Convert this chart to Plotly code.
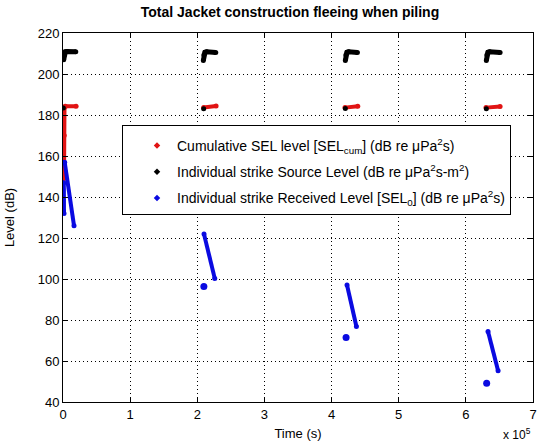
import plotly.graph_objects as go

# ---------------- data ----------------
# Cumulative SEL level (red): four piling events, separated by None
cum_time = [1500, 1800, 2200, 3500, 19500, None,
            209500, 228000, None,
            420000, 439000, None,
            630000, 651000]
cum_db = [149.0, 170.0, 183.8, 184.3, 184.3, None,
          183.7, 184.4, None,
          183.6, 184.3, None,
          183.6, 184.2]

# Individual strike Source Level (black)
sl_time = [1000, 1800, 3500, 6000, 19000, None,
           209000, 209800, 211500, 214000, 227500, None,
           420500, 421300, 423000, 425500, 438500, None,
           630500, 631300, 633000, 635500, 651000]
sl_db = [207.0, 209.5, 210.8, 211.0, 210.8, None,
         206.6, 209.3, 210.6, 210.8, 210.5, None,
         206.6, 209.3, 210.6, 210.8, 210.5, None,
         206.6, 209.3, 210.6, 210.8, 210.5]
# first (soft-start) strike of each event, source level
sl_first_time = [500, 209500, 420500, 630500]
sl_first_db = [183.4, 183.0, 183.2, 183.0]

# Individual strike Received Level (blue)
rl_time = [2500, 16400, None,
           1200, 1500, None,
           210000, 226000, None,
           423000, 437000, None,
           633000, 648000]
rl_db = [157.0, 126.0, None,
         147.0, 132.0, None,
         121.9, 100.3, None,
         97.1, 76.8, None,
         74.4, 55.2]
# first (soft-start) strike of each event, received level
rl_first_time = [209800, 421600, 631000]
rl_first_db = [96.3, 71.5, 49.1]

x_tickvals = [0, 100000, 200000, 300000, 400000, 500000, 600000, 700000]
x_ticktext = ["0", "1", "2", "3", "4", "5", "6", "7"]
y_tickvals = [40, 60, 80, 100, 120, 140, 160, 180, 200, 220]

names = [
    "Cumulative SEL level [SEL<sub>cum</sub>] (dB re \u03bcPa<sup>2</sup>s)",
    "Individual strike Source Level (dB re \u03bcPa<sup>2</sup>s-m<sup>2</sup>)",
    "Individual strike Received Level [SEL<sub>0</sub>] (dB re \u03bcPa<sup>2</sup>s)",
]

RED = "rgb(225,20,20)"
BLACK = "rgb(0,0,0)"
BLUE = "rgb(10,10,225)"
FONT = "Liberation Sans, Arial, sans-serif"

fig = go.Figure()

# data traces (drawn in MATLAB plot order: red, black, blue)
fig.add_trace(go.Scatter(x=cum_time, y=cum_db, mode="lines+markers",
                         line=dict(color=RED, width=4),
                         marker=dict(color=RED, size=5),
                         showlegend=False, connectgaps=False))
fig.add_trace(go.Scatter(x=sl_time, y=sl_db, mode="lines+markers",
                         line=dict(color=BLACK, width=5),
                         marker=dict(color=BLACK, size=5),
                         showlegend=False, connectgaps=False))
fig.add_trace(go.Scatter(x=sl_first_time, y=sl_first_db, mode="markers",
                         marker=dict(color=BLACK, size=5),
                         showlegend=False))
fig.add_trace(go.Scatter(x=rl_time, y=rl_db, mode="lines+markers",
                         line=dict(color=BLUE, width=4),
                         marker=dict(color=BLUE, size=5),
                         showlegend=False, connectgaps=False))
fig.add_trace(go.Scatter(x=rl_first_time, y=rl_first_db, mode="markers",
                         marker=dict(color=BLUE, size=7),
                         showlegend=False))

# legend entries (dot markers only)
for i, (nm, col) in enumerate(zip(names, [RED, BLACK, BLUE])):
    fig.add_trace(go.Scatter(x=[None], y=[None], mode="markers",
                             marker=dict(color=col, size=5, symbol="diamond"),
                             name=nm, legendgroup="g%d" % i, showlegend=True))

axis_common = dict(showline=True, linecolor="black", linewidth=1, mirror="ticks",
                   ticks="inside", ticklen=5, tickcolor="black",
                   showgrid=True, gridcolor="black", gridwidth=1,
                   griddash="1px,3px", zeroline=False, automargin=False,
                   tickfont=dict(family=FONT, size=13, color="black"))

fig.update_layout(
    width=540, height=445,
    margin=dict(l=63, r=7, t=33, b=43),
    paper_bgcolor="white", plot_bgcolor="white",
    font=dict(family=FONT, size=12, color="black"),
    title=dict(text="<b>Total Jacket construction fleeing when piling</b>",
               font=dict(family=FONT, size=14, color="black"),
               x=290 / 540, xanchor="center", xref="container",
               y=1 - 12 / 445, yanchor="middle", yref="container"),
    xaxis=dict(range=[0, 700000], tickvals=x_tickvals, ticktext=x_ticktext,
               title=dict(text="Time (s)", standoff=8,
                          font=dict(family=FONT, size=13)),
               **axis_common),
    yaxis=dict(range=[40, 220], tickvals=y_tickvals,
               title=dict(text="Level (dB)", standoff=20,
                          font=dict(family=FONT, size=13)),
               **axis_common),
    legend=dict(x=(122 - 63) / 470, y=(402 - 125) / 369, xanchor="left", yanchor="top",
                bgcolor="white", bordercolor="black", borderwidth=1,
                font=dict(family=FONT, size=14, color="black"),
                title=dict(text=" ", font=dict(size=3)),
                tracegroupgap=5, indentation=14, itemwidth=30),
    showlegend=True,
    annotations=[dict(text="x 10<sup>5</sup>", xref="paper", yref="paper",
                      x=1.0, y=0, xanchor="right", yanchor="top", yshift=-22,
                      xshift=0,
                      showarrow=False, font=dict(family=FONT, size=12, color="black"))],
)

fig.write_html("out.html", config={"displayModeBar": False},
               post_script="document.body.style.margin='0';")
